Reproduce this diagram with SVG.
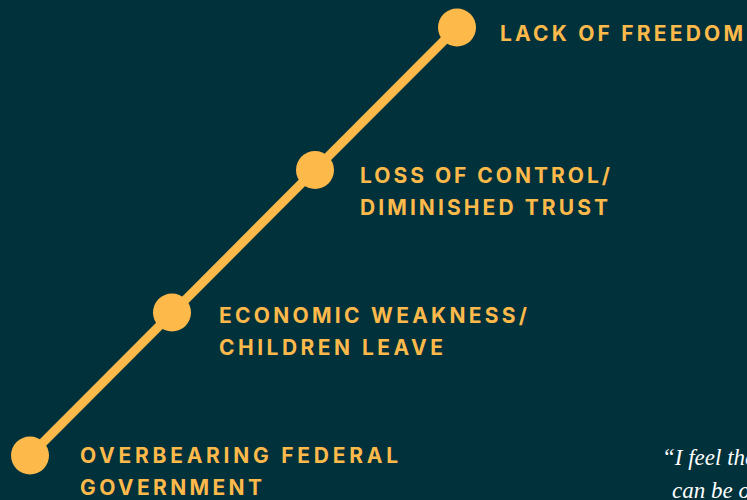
<svg xmlns="http://www.w3.org/2000/svg" width="747" height="500" viewBox="0 0 747 500">
<style>
.lbl{font-family:Inter,"Open Sans","Liberation Sans",sans-serif;font-weight:700;font-size:21px;fill:#FDBA4B;}
.dot{fill:#FDBA4B;}
.q{font-family:"Liberation Serif","DejaVu Serif",serif;font-style:italic;font-size:23px;fill:#ffffff;}
</style>
<rect width="747" height="500" fill="#01313A"/>
<g id="connectors">
<line x1="30" y1="455.5" x2="457" y2="27.5" stroke="#FDBA4B" stroke-width="9"/>
</g>
<g id="node-freedom">
<circle class="dot" cx="457" cy="27.5" r="19"/>
<text class="lbl" x="500" y="41" textLength="243" lengthAdjust="spacing">LACK OF FREEDOM</text>
</g>
<g id="node-control">
<circle class="dot" cx="315" cy="170" r="19"/>
<text class="lbl" x="360" y="183" textLength="250" lengthAdjust="spacing">LOSS OF CONTROL/</text>
<text class="lbl" x="360" y="215" textLength="248" lengthAdjust="spacing">DIMINISHED TRUST</text>
</g>
<g id="node-economic">
<circle class="dot" cx="172" cy="312.5" r="19"/>
<text class="lbl" x="219" y="323" textLength="308" lengthAdjust="spacing">ECONOMIC WEAKNESS/</text>
<text class="lbl" x="219" y="355" textLength="224" lengthAdjust="spacing">CHILDREN LEAVE</text>
</g>
<g id="node-government">
<circle class="dot" cx="30" cy="455.5" r="19"/>
<text class="lbl" x="80" y="463" textLength="318" lengthAdjust="spacing">OVERBEARING FEDERAL</text>
<text class="lbl" x="80" y="495" textLength="182" lengthAdjust="spacing">GOVERNMENT</text>
</g>
<g id="quote">
<text class="q" x="662" y="465">“I feel the</text>
<text class="q" x="672" y="498">can be o</text>
</g>
</svg>
